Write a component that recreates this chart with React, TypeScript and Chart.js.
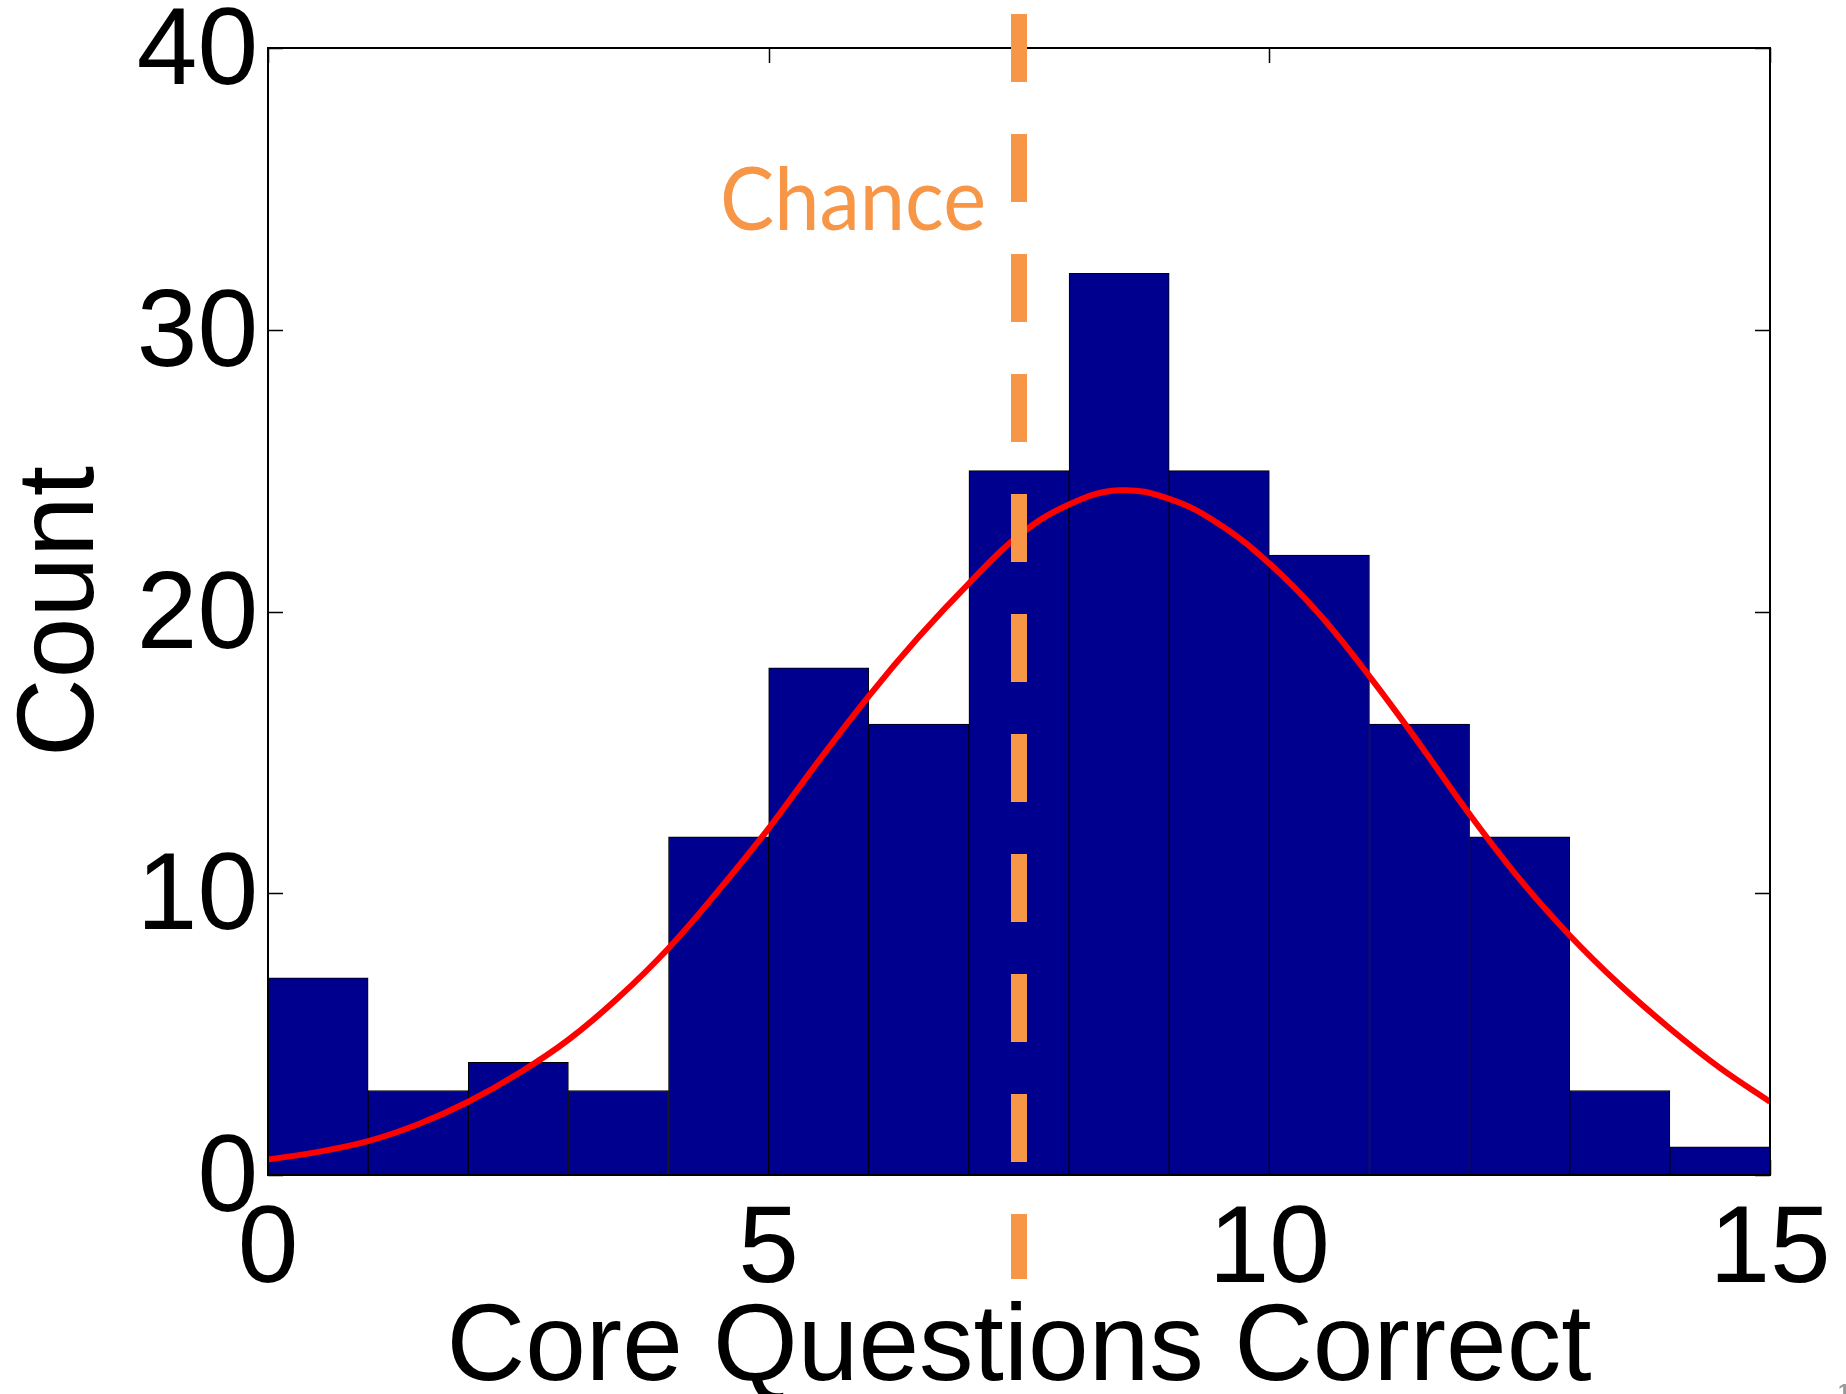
import React, { useEffect, useRef } from "react";
import { Chart, registerables } from "chart.js";

Chart.register(...registerables);

// ---- data ----
const binCenters = [0.5, 1.5, 2.5, 3.5, 4.5, 5.5, 6.5, 7.5, 8.5, 9.5, 10.5, 11.5, 12.5, 13.5, 14.5];
const binCounts = [7, 3, 4, 3, 12, 18, 16, 25, 32, 25, 22, 16, 12, 3, 1];

const fitX = [0, 0.5, 1, 1.5, 2, 2.5, 3, 3.5, 4, 4.5, 5, 5.5, 6, 6.5, 7, 7.5, 8, 8.5, 9, 9.5, 10, 10.5, 11, 11.5, 12, 12.5, 13, 13.5, 14, 14.5, 15];
const fitY = [0.55, 0.82, 1.2, 1.8, 2.6, 3.6, 4.8, 6.3, 8.05, 10.1, 12.3, 14.7, 17.0, 19.1, 21.0, 22.7, 23.8, 24.3, 24.0, 23.1, 21.7, 19.9, 17.7, 15.3, 12.8, 10.5, 8.5, 6.75, 5.2, 3.8, 2.6];

const chanceValue = 7.5;
const chanceLabel = "Chance";

const xTickValues = [0, 5, 10, 15];
const yTickValues = [0, 10, 20, 30, 40];
const xTitle = "Core Questions Correct";
const yTitle = "Count";

const FONT = "'Liberation Sans', Arial, Helvetica, sans-serif";
const BAR_COLOR = "rgb(0,0,143)";
const ORANGE = "#F79646";

const axesPlugin = {
  id: "matlabAxes",
  beforeDatasetsDraw(chart: any) {
    const { ctx, chartArea: a, scales } = chart;
    const x = scales.x;
    const y = scales.y;
    const tl = 15;
    ctx.save();
    ctx.strokeStyle = "#000";
    ctx.lineWidth = 1.5;
    ctx.beginPath();
    yTickValues.forEach((v) => {
      const py = Math.round(y.getPixelForValue(v)) + 0.5;
      ctx.moveTo(a.left, py);
      ctx.lineTo(a.left + tl, py);
      ctx.moveTo(a.right, py);
      ctx.lineTo(a.right - tl, py);
    });
    xTickValues.forEach((v) => {
      const px = Math.round(x.getPixelForValue(v)) + 0.5;
      ctx.moveTo(px, a.top);
      ctx.lineTo(px, a.top + tl);
      ctx.moveTo(px, a.bottom);
      ctx.lineTo(px, a.bottom - tl);
    });
    ctx.stroke();
    ctx.restore();
  },
  afterDatasetsDraw(chart: any) {
    const { ctx, chartArea: a, scales } = chart;
    const x = scales.x;
    ctx.save();
    // axes box
    ctx.strokeStyle = "#000";
    ctx.lineWidth = 2;
    ctx.strokeRect(a.left, a.top, a.right - a.left, a.bottom - a.top);

    // chance line
    const cx = x.getPixelForValue(chanceValue);
    ctx.strokeStyle = ORANGE;
    ctx.lineWidth = 16;
    ctx.lineCap = "butt";
    ctx.setLineDash([68, 52]);
    ctx.beginPath();
    ctx.moveTo(cx, a.top - 34);
    ctx.lineTo(cx, a.bottom + 104);
    ctx.stroke();
    ctx.setLineDash([]);

    // chance label
    ctx.fillStyle = ORANGE;
    ctx.font = "87px Lato, 'Open Sans', sans-serif";
    ctx.textBaseline = "alphabetic";
    ctx.textAlign = "right";
    const w = ctx.measureText(chanceLabel).width;
    const target = 266;
    ctx.translate(cx - 33, a.top + 182);
    ctx.scale(target / w, 1);
    ctx.fillText(chanceLabel, 0, 0);
    ctx.restore();

    // small page-number fragment at the bottom right
    ctx.save();
    ctx.fillStyle = "#999";
    ctx.font = "bold 22px 'Liberation Sans', sans-serif";
    ctx.textAlign = "left";
    ctx.textBaseline = "top";
    ctx.fillText("1", 1838, 1382);
    ctx.restore();
  },
};

export default function App() {
  const ref = useRef<HTMLCanvasElement | null>(null);

  useEffect(() => {
    if (!ref.current) return;
    const chart = new Chart(ref.current, {
      type: "bar",
      data: {
        datasets: [
          {
            type: "line",
            label: "fit",
            data: fitX.map((v, i) => ({ x: v, y: fitY[i] })),
            borderColor: "#FF0000",
            borderWidth: 6,
            pointRadius: 0,
            tension: 0.4,
            fill: false,
            order: 0,
          } as any,
          {
            type: "bar",
            label: "counts",
            data: binCenters.map((v, i) => ({ x: v, y: binCounts[i] })),
            backgroundColor: BAR_COLOR,
            borderColor: "#000",
            borderWidth: 1,
            barPercentage: 1,
            categoryPercentage: 1,
            order: 1,
          } as any,
        ],
      },
      options: {
        responsive: false,
        animation: false,
        devicePixelRatio: 1,
        layout: { padding: { left: 0, top: 48, right: 76, bottom: 0 } },
        plugins: { legend: { display: false }, tooltip: { enabled: false } },
        scales: {
          x: {
            type: "linear",
            min: 0,
            max: 15,
            offset: false,
            grid: { display: false, drawTicks: false, offset: false },
            border: { display: false },
            ticks: {
              stepSize: 5,
              color: "#000",
              padding: 12,
              maxRotation: 0,
              font: { family: FONT, size: 109, lineHeight: 1.2 },
            },
            title: {
              display: true,
              text: xTitle,
              color: "#000",
              padding: 0,
              font: { family: FONT, size: 109, lineHeight: 0.8 },
            },
            afterFit: (s: any) => {
              s.height = 219;
              s.paddingLeft = 0;
              s.paddingRight = 0;
            },
          },
          y: {
            type: "linear",
            min: 0,
            max: 40,
            grid: { display: false, drawTicks: false },
            border: { display: false },
            ticks: {
              stepSize: 10,
              color: "#000",
              padding: 10,
              labelOffset: 6,
              font: { family: FONT, size: 109, lineHeight: 1.2 },
            },
            title: {
              display: true,
              text: yTitle,
              color: "#000",
              padding: { top: 8, bottom: 0 },
              font: { family: FONT, size: 109, lineHeight: 1 },
            },
            afterFit: (s: any) => {
              s.width = 268;
              s.paddingTop = 0;
              s.paddingBottom = 0;
            },
          },
        },
      } as any,
      plugins: [axesPlugin],
    });
    return () => chart.destroy();
  }, []);

  return (
    <canvas
      ref={ref}
      width={1846}
      height={1394}
      style={{ position: "absolute", left: 0, top: 0, width: 1846, height: 1394, display: "block", background: "#fff" }}
    />
  );
}
